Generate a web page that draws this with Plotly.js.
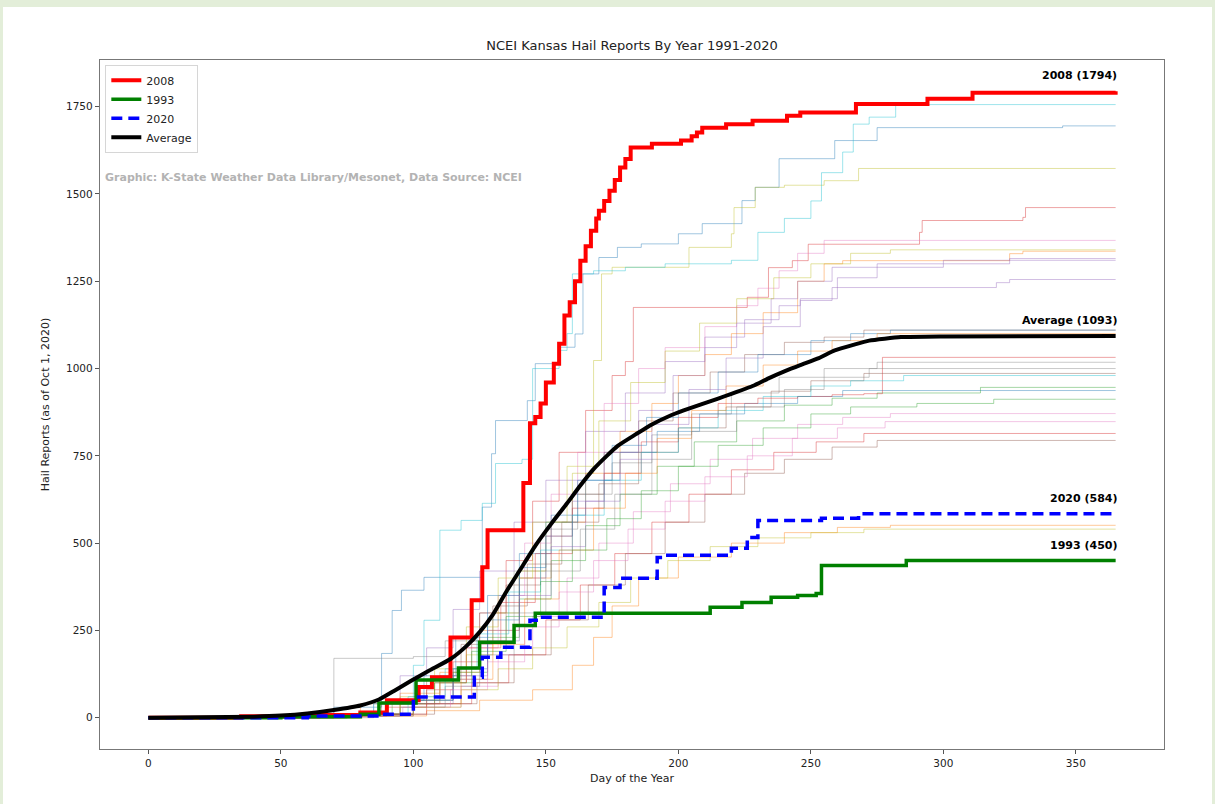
<!DOCTYPE html>
<html>
<head>
<meta charset="utf-8">
<script src="https://cdn.plot.ly/plotly-3.0.1.min.js"></script>
<style>
  html, body { margin: 0; padding: 0; background: #e3eed9; width: 1215px; height: 804px; overflow: hidden; }
  #chart { position: absolute; left: 3px; top: 7px; width: 1209px; height: 797px; background: #ffffff; }
</style>
</head>
<body>
<div id="chart"></div>
<script>
// ---------------- DATA ----------------
const chartTitle = "NCEI Kansas Hail Reports By Year 1991-2020";
const xTitle = "Day of the Year";
const yTitle = "Hail Reports (as of Oct 1, 2020)";
const creditText = "Graphic: K-State Weather Data Library/Mesonet, Data Source: NCEI";
const xTicks = [0, 50, 100, 150, 200, 250, 300, 350];
const yTicks = [0, 250, 500, 750, 1000, 1250, 1500, 1750];

// Highlighted years (cumulative reports by day of year)
const days2008 = [0, 35, 60, 80, 90, 102, 107, 114, 122, 126, 128, 141.5, 144, 146, 148, 150, 153, 155, 157, 159, 161, 163, 165, 167, 169, 170, 172, 174, 176, 178, 180, 182, 190, 201, 205, 207, 209, 218, 228, 241, 246, 267, 294, 311, 365];
const hail2008 = [0, 4, 8, 15, 50, 88, 116, 230, 336, 431, 537, 672, 843, 861, 900, 960, 1014, 1071, 1152, 1190, 1250, 1309, 1350, 1395, 1430, 1452, 1480, 1509, 1540, 1576, 1600, 1633, 1644, 1653, 1665, 1676, 1690, 1700, 1710, 1724, 1733, 1758, 1773, 1790, 1794];

const days1993 = [0, 50, 80, 87, 101, 117, 125, 138, 146, 212, 224, 235, 245, 252, 254, 286, 365];
const hail1993 = [0, 3, 10, 42, 108, 142, 216, 264, 299, 316, 330, 345, 350, 356, 436, 450, 450];

const days2020 = [0, 60, 88, 100, 123, 126, 133, 144, 148, 172, 178, 192, 196, 220, 226, 230, 254, 268, 365];
const hail2020 = [0, 5, 10, 59, 116, 173, 202, 279, 288, 373, 399, 459, 465, 485, 516, 565, 571, 584, 584];

const daysAvg = [0, 20, 40, 50, 60, 70, 80, 87, 93, 99, 106, 114, 120, 125, 130, 135, 140, 146, 152, 158, 163, 168, 173, 177, 184, 190, 196, 202, 215, 228, 234, 240, 246, 253, 259, 266, 272, 284, 300, 365];
const hailAvg = [0, 1, 3, 6, 12, 22, 35, 52, 78, 105, 135, 168, 205, 245, 295, 360, 420, 492, 555, 614, 665, 712, 750, 778, 812, 840, 862, 880, 914, 950, 972, 992, 1010, 1030, 1052, 1068, 1080, 1090, 1092, 1093];

// Background years
const days1991 = [0, 55, 70, 88, 92, 95.5, 104, 126, 129.5, 131, 143, 146, 155, 161, 164, 170, 177, 186, 200, 209, 224, 229, 238, 259, 275, 345, 365];
const hail1991 = [0, 5, 30, 184, 307, 365, 402, 603, 756, 851, 908, 1014, 1061, 1099, 1271, 1318, 1347, 1357, 1386, 1415, 1481, 1519, 1601, 1653, 1690, 1695, 1695];
const days1992 = [0, 50, 80, 95, 110, 125, 140, 152, 165, 178, 190, 200, 210, 220, 232, 245, 255, 262, 325, 330, 365];
const hail1992 = [0, 5, 40, 70, 130, 250, 400, 560, 700, 820, 900, 980, 1040, 1100, 1160, 1250, 1300, 1309, 1329, 1336, 1336];
const days1994 = [0, 60, 90, 105, 115, 125, 135, 145, 155, 165, 175, 180, 183, 226, 234, 243, 249, 291, 292, 330, 331, 365];
const hail1994 = [0, 5, 30, 80, 160, 300, 450, 620, 760, 880, 980, 1020, 1175, 1204, 1289, 1309, 1356, 1390, 1424, 1433, 1461, 1461];
const days1995 = [0, 60, 85, 95, 105, 115, 125, 138, 150, 165, 180, 195, 210, 225, 238, 246, 258, 320, 325, 365];
const hail1995 = [0, 5, 40, 120, 200, 310, 420, 560, 680, 820, 930, 1020, 1090, 1140, 1180, 1195, 1232, 1246, 1255, 1255];
const days1996 = [0, 70, 95, 110, 122, 135, 148, 160, 172, 185, 198, 212, 225, 240, 255, 270, 365];
const hail1996 = [0, 10, 50, 120, 220, 380, 520, 640, 760, 850, 930, 990, 1040, 1075, 1090, 1110, 1110];
const days1997 = [0, 65, 95, 110, 120, 132, 142, 152, 162, 172, 185, 195, 210, 222, 230, 238, 245, 255, 365];
const hail1997 = [0, 5, 40, 100, 200, 350, 500, 640, 760, 900, 1000, 1060, 1120, 1180, 1230, 1280, 1330, 1367, 1367];
const days1998 = [0, 60, 70, 100, 112, 125, 138, 150, 162, 175, 190, 205, 220, 238, 255, 275, 365];
const hail1998 = [0, 5, 170, 175, 220, 300, 420, 540, 640, 730, 810, 870, 930, 975, 1000, 1018, 1018];
const days1999 = [0, 70, 95, 110, 120, 130, 140, 150, 160, 168, 171, 175, 204, 220, 221, 229, 240, 255, 268, 365];
const hail1999 = [0, 10, 40, 100, 180, 300, 420, 560, 700, 1023, 1271, 1290, 1347, 1386, 1461, 1519, 1525, 1538, 1573, 1573];
const days2000 = [0, 60, 85, 100, 104, 110, 118, 126, 131, 141, 145, 155, 158, 160, 168, 180, 195, 210, 220, 230, 240, 250, 254, 262, 266, 272, 282, 365];
const hail2000 = [0, 5, 40, 150, 279, 537, 565, 614, 728, 740, 1000, 1052, 1100, 1271, 1280, 1290, 1300, 1300, 1310, 1390, 1430, 1480, 1561, 1620, 1700, 1720, 1756, 1756];
const days2001 = [0, 65, 90, 104, 116, 128, 140, 152, 165, 178, 192, 208, 225, 245, 262, 365];
const hail2001 = [0, 10, 50, 120, 230, 350, 470, 580, 680, 760, 820, 870, 900, 920, 937, 937];
const days2002 = [0, 80, 105, 125, 145, 160, 168, 175, 185, 200, 220, 240, 260, 280, 365];
const hail2002 = [0, 5, 20, 50, 80, 150, 230, 320, 400, 460, 500, 530, 545, 551, 551];
const days2003 = [0, 80, 100, 115, 128, 140, 152, 165, 178, 192, 206, 222, 240, 258, 275, 314, 365];
const hail2003 = [0, 10, 50, 130, 230, 340, 450, 550, 640, 720, 790, 850, 895, 915, 930, 946, 946];
const days2004 = [0, 60, 90, 108, 120, 133, 146, 160, 172, 186, 200, 215, 230, 245, 258, 270, 277, 365];
const hail2004 = [0, 5, 40, 100, 200, 330, 470, 600, 700, 790, 860, 900, 915, 920, 925, 928, 1032, 1032];
const days2005 = [0, 70, 100, 115, 128, 140, 150, 160, 172, 185, 198, 210, 222, 235, 245, 258, 300, 325, 365];
const hail2005 = [0, 10, 50, 120, 250, 400, 520, 620, 760, 880, 980, 1060, 1130, 1200, 1250, 1290, 1300, 1315, 1315];
const days2006 = [0, 65, 88, 105, 118, 130, 143, 156, 170, 185, 200, 218, 235, 250, 270, 365];
const hail2006 = [0, 5, 40, 110, 210, 320, 440, 560, 670, 760, 830, 890, 935, 965, 986, 986];
const days2007 = [0, 75, 100, 118, 132, 145, 158, 170, 183, 197, 212, 228, 245, 262, 280, 365];
const hail2007 = [0, 5, 30, 90, 180, 290, 400, 500, 590, 670, 740, 800, 840, 860, 871, 871];
const days2009 = [0, 70, 95, 108, 120, 132, 145, 158, 170, 182, 195, 208, 222, 236, 250, 265, 280, 365];
const hail2009 = [0, 10, 60, 140, 260, 400, 560, 720, 850, 960, 1050, 1130, 1200, 1260, 1300, 1330, 1340, 1340];
const days2010 = [0, 75, 98, 112, 124, 136, 148, 160, 172, 186, 200, 215, 232, 250, 265, 285, 365];
const hail2010 = [0, 10, 60, 140, 240, 360, 480, 580, 680, 760, 830, 880, 920, 950, 965, 980, 980];
const days2011 = [0, 75, 100, 115, 128, 140, 150, 162, 175, 188, 200, 215, 230, 250, 265, 280, 365];
const hail2011 = [0, 10, 50, 140, 280, 430, 560, 680, 780, 860, 930, 990, 1040, 1080, 1100, 1110, 1110];
const days2012 = [0, 80, 100, 118, 130, 142, 155, 168, 180, 192, 205, 218, 232, 245, 258, 275, 365];
const hail2012 = [0, 10, 40, 110, 210, 340, 480, 600, 700, 800, 880, 950, 1010, 1050, 1080, 1100, 1100];
const days2013 = [0, 70, 92, 108, 122, 135, 148, 160, 173, 186, 200, 215, 232, 250, 265, 290, 319, 365];
const hail2013 = [0, 10, 40, 100, 190, 290, 390, 480, 570, 650, 720, 780, 830, 870, 890, 900, 912, 912];
const days2014 = [0, 80, 105, 122, 136, 150, 163, 176, 190, 204, 220, 236, 252, 270, 365];
const hail2014 = [0, 10, 40, 100, 180, 280, 380, 470, 560, 640, 710, 760, 790, 814, 814];
const days2015 = [0, 75, 100, 115, 128, 140, 152, 165, 178, 190, 204, 218, 232, 246, 260, 275, 300, 365];
const hail2015 = [0, 5, 40, 110, 220, 350, 490, 620, 740, 840, 940, 1030, 1120, 1200, 1260, 1300, 1310, 1310];
const days2016 = [0, 85, 108, 124, 138, 152, 166, 180, 195, 210, 225, 240, 258, 275, 365];
const hail2016 = [0, 10, 40, 100, 180, 280, 380, 470, 560, 640, 700, 740, 775, 794, 794];
const days2017 = [0, 70, 96, 114, 128, 142, 155, 168, 181, 195, 210, 226, 243, 260, 278, 365];
const hail2017 = [0, 5, 30, 80, 160, 260, 360, 450, 540, 620, 690, 750, 800, 830, 848, 848];
const days2018 = [0, 70, 95, 112, 125, 138, 150, 163, 176, 190, 205, 222, 240, 255, 272, 365];
const hail2018 = [0, 5, 30, 90, 180, 300, 420, 540, 640, 740, 820, 890, 940, 975, 1000, 1000];
const days2019 = [0, 75, 100, 118, 132, 145, 158, 170, 182, 196, 212, 230, 250, 270, 365];
const hail2019 = [0, 5, 30, 80, 140, 200, 260, 330, 400, 450, 490, 515, 530, 540, 540];

// ---------------- BUILD ----------------
const tab10 = ['31,119,180', '255,127,14', '44,160,44', '214,39,40', '148,103,189',
               '140,86,75', '227,119,194', '127,127,127', '188,189,34', '23,190,207'];

const background = [
  [1991, days1991, hail1991], [1992, days1992, hail1992], [1994, days1994, hail1994],
  [1995, days1995, hail1995], [1996, days1996, hail1996], [1997, days1997, hail1997],
  [1998, days1998, hail1998], [1999, days1999, hail1999], [2000, days2000, hail2000],
  [2001, days2001, hail2001], [2002, days2002, hail2002], [2003, days2003, hail2003],
  [2004, days2004, hail2004], [2005, days2005, hail2005], [2006, days2006, hail2006],
  [2007, days2007, hail2007], [2009, days2009, hail2009], [2010, days2010, hail2010],
  [2011, days2011, hail2011], [2012, days2012, hail2012], [2013, days2013, hail2013],
  [2014, days2014, hail2014], [2015, days2015, hail2015], [2016, days2016, hail2016],
  [2017, days2017, hail2017], [2018, days2018, hail2018], [2019, days2019, hail2019]
];

const traces = background.map(([yr, d, v]) => ({
  x: d, y: v, type: 'scatter', mode: 'lines',
  line: { shape: 'hv', width: 1, color: 'rgba(' + tab10[(yr - 1991) % 10] + ',0.42)' },
  showlegend: false, hoverinfo: 'skip', name: String(yr)
}));

traces.push({ x: days2008, y: hail2008, type: 'scatter', mode: 'lines', name: '2008',
  line: { shape: 'hv', width: 4, color: '#ff0000' } });
traces.push({ x: days1993, y: hail1993, type: 'scatter', mode: 'lines', name: '1993',
  line: { shape: 'hv', width: 3.5, color: '#008000' } });
traces.push({ x: days2020, y: hail2020, type: 'scatter', mode: 'lines', name: '2020',
  line: { shape: 'hv', width: 3.5, color: '#0000ff', dash: '11px,6px' } });
traces.push({ x: daysAvg, y: hailAvg, type: 'scatter', mode: 'lines', name: 'Average',
  line: { width: 4, color: '#000000', shape: 'spline', smoothing: 0.5 } });

const font = 'DejaVu Sans, sans-serif';
function endLabel(label, d, v) {
  const last = v[v.length - 1];
  return { x: d[d.length - 1], y: last, xref: 'x', yref: 'y', text: '<b>' + label + ' (' + last + ')</b>',
    showarrow: false, xanchor: 'right', yanchor: 'bottom', yshift: 7, xshift: 3,
    font: { family: font, size: 11, color: '#000' } };
}

const layout = {
  width: 1209, height: 797,
  margin: { l: 97, r: 48, t: 53, b: 55 },
  paper_bgcolor: '#ffffff', plot_bgcolor: '#ffffff',
  font: { family: font, size: 10.5, color: '#222' },
  title: { text: chartTitle, font: { family: font, size: 13, color: '#222' },
           x: 0.5, xref: 'paper', xanchor: 'center', y: 0.952, yref: 'container', yanchor: 'middle' },
  xaxis: {
    range: [-18.25, 383.25], tickvals: xTicks, ticktext: xTicks.map(String),
    showgrid: false, zeroline: false, showline: true, mirror: true, linecolor: '#777', linewidth: 1.2,
    ticks: 'outside', ticklen: 4, tickcolor: '#555', tickfont: { family: font, size: 10.5, color: '#222' },
    title: { text: xTitle, font: { family: font, size: 11, color: '#222' }, standoff: 6 }
  },
  yaxis: {
    range: [-89.7, 1883.7], tickvals: yTicks, ticktext: yTicks.map(String),
    showgrid: false, zeroline: false, showline: true, mirror: true, linecolor: '#777', linewidth: 1.2,
    ticks: 'outside', ticklen: 4, tickcolor: '#555', tickfont: { family: font, size: 10.5, color: '#222' },
    title: { text: yTitle, font: { family: font, size: 11, color: '#222' }, standoff: 14 }
  },
  legend: {
    x: 0.005, y: 0.993, xanchor: 'left', yanchor: 'top',
    bgcolor: 'rgba(255,255,255,0.85)', bordercolor: '#d6d6d6', borderwidth: 1,
    font: { family: font, size: 11, color: '#222' }, itemwidth: 30, tracegroupgap: 0
  },
  annotations: [
    endLabel('2008', days2008, hail2008),
    endLabel('Average', daysAvg, hailAvg),
    endLabel('2020', days2020, hail2020),
    endLabel('1993', days1993, hail1993),
    { x: 0.003, y: 0.83, xref: 'paper', yref: 'paper', xanchor: 'left', yanchor: 'middle',
      text: '<b>' + creditText + '</b>', showarrow: false,
      font: { family: font, size: 11, color: '#b3b3b3' } }
  ],
  showlegend: true
};

Plotly.newPlot('chart', traces, layout, { displayModeBar: false, staticPlot: true });
</script>
</body>
</html>
